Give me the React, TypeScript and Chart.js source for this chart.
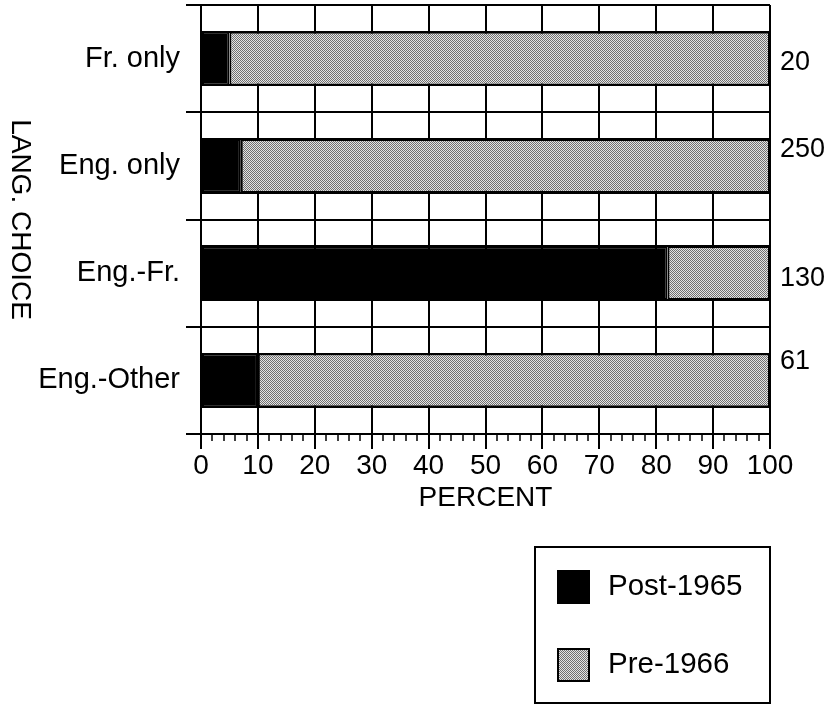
import React, { useEffect, useRef } from "react";
import { Chart, registerables } from "chart.js";

Chart.register(...registerables);

const categories = ["Fr. only", "Eng. only", "Eng.-Fr.", "Eng.-Other"];
const post1965 = [5, 7, 82, 10];
const pre1966 = [95, 93, 18, 90];
const counts = ["20", "250", "130", "61"];
const seriesLabels = ["Post-1965", "Pre-1966"];
const xTickValues = [0, 10, 20, 30, 40, 50, 60, 70, 80, 90, 100];

const FONT = "'Liberation Sans', Arial, Helvetica, sans-serif";

function makePattern(): CanvasPattern | string {
  const c = document.createElement("canvas");
  c.width = 2;
  c.height = 2;
  const g = c.getContext("2d");
  if (!g) return "#b0b0b0";
  g.fillStyle = "#e4e4e4";
  g.fillRect(0, 0, 2, 2);
  g.fillStyle = "#707070";
  g.fillRect(0, 0, 1, 1);
  g.fillRect(1, 1, 1, 1);
  const p = g.createPattern(c, "repeat");
  return p || "#b0b0b0";
}

export default function App() {
  const ref = useRef<HTMLCanvasElement | null>(null);

  useEffect(() => {
    const canvas = ref.current;
    if (!canvas) return;
    const grey = makePattern();

    const quarterLines = {
      id: "quarterLines",
      beforeDatasetsDraw(chart: any) {
        const { ctx, chartArea, scales } = chart;
        const y = scales.y;
        const band = (chartArea.bottom - chartArea.top) / categories.length;
        ctx.save();
        ctx.strokeStyle = "#000";
        ctx.lineWidth = 2;
        categories.forEach((_, i) => {
          const c = y.getPixelForValue(i);
          [c - band / 4, c + band / 4].forEach((py) => {
            const yy = Math.round(py);
            ctx.beginPath();
            ctx.moveTo(chartArea.left, yy);
            ctx.lineTo(chartArea.right, yy);
            ctx.stroke();
          });
        });
        ctx.restore();
      },
    };

    const extras = {
      id: "extras",
      afterDraw(chart: any) {
        const { ctx, chartArea, scales } = chart;
        const x = scales.x;
        const y = scales.y;
        const band = (chartArea.bottom - chartArea.top) / categories.length;
        ctx.save();
        // minor ticks
        ctx.strokeStyle = "#000";
        ctx.lineWidth = 1.5;
        for (let v = 2; v < 100; v += 2) {
          if (v % 10 === 0) continue;
          const px = Math.round(x.getPixelForValue(v));
          ctx.beginPath();
          ctx.moveTo(px, chartArea.bottom);
          ctx.lineTo(px, chartArea.bottom + 7);
          ctx.stroke();
        }
        // y title rotated clockwise
        ctx.fillStyle = "#000";
        ctx.font = `28px ${FONT}`;
        ctx.textAlign = "center";
        ctx.textBaseline = "middle";
        ctx.save();
        ctx.translate(20, (chartArea.top + chartArea.bottom) / 2);
        ctx.rotate(Math.PI / 2);
        ctx.fillText("LANG. CHOICE", 0, 0);
        ctx.restore();
        // counts on right
        const offs = [0.04, -0.15, 0.05, -0.18];
        ctx.textAlign = "left";
        ctx.font = `27px ${FONT}`;
        counts.forEach((t, i) => {
          ctx.fillText(t, chartArea.right + 10, y.getPixelForValue(i) + offs[i] * band);
        });
        // legend
        const lx = 535, ly = 547, lw = 235, lh = 156;
        ctx.lineWidth = 2;
        ctx.strokeRect(lx, ly, lw, lh);
        const fills = [chart.data.datasets[0].backgroundColor, chart.data.datasets[1].backgroundColor];
        const rows = [587, 665];
        ctx.font = `29.5px ${FONT}`;
        seriesLabels.forEach((lab, i) => {
          const cy = rows[i];
          ctx.fillStyle = fills[i];
          ctx.fillRect(558, cy - 16, 31, 32);
          ctx.strokeStyle = "#000";
          ctx.lineWidth = 2;
          ctx.strokeRect(558, cy - 16, 31, 32);
          ctx.fillStyle = "#000";
          ctx.fillText(lab, 608, cy);
        });
        ctx.restore();
      },
    };

    const chart = new Chart(canvas, {
      type: "bar",
      data: {
        labels: categories,
        datasets: [
          {
            label: seriesLabels[0],
            data: post1965,
            backgroundColor: "#000000",
            borderColor: "#000000",
            borderWidth: 2,
            borderSkipped: false,
            barPercentage: 0.5,
            categoryPercentage: 1,
          },
          {
            label: seriesLabels[1],
            data: pre1966,
            backgroundColor: grey as any,
            borderColor: "#000000",
            borderWidth: 2,
            borderSkipped: false,
            barPercentage: 0.5,
            categoryPercentage: 1,
          },
        ],
      },
      options: {
        indexAxis: "y",
        responsive: false,
        animation: false,
        events: [],
        layout: { padding: { top: 5, right: 62, bottom: 190, left: 0 } },
        plugins: {
          legend: { display: false },
          tooltip: { enabled: false },
        },
        scales: {
          x: {
            stacked: true,
            min: 0,
            max: 100,
            afterBuildTicks(scale: any) {
              scale.ticks = xTickValues.map((v) => ({ value: v }));
            },
            afterFit(scale: any) {
              scale.height = 81;
              scale.paddingLeft = 0;
              scale.paddingRight = 0;
            },
            grid: {
              color: "#000",
              lineWidth: 2,
              tickLength: 15,
              drawOnChartArea: true,
            },
            border: { display: true, color: "#000", width: 2 },
            ticks: {
              color: "#000",
              font: { family: FONT, size: 28 },
              padding: 0,
              maxRotation: 0,
              autoSkip: false,
            },
            title: {
              display: true,
              text: "PERCENT",
              color: "#000",
              font: { family: FONT, size: 28 },
              padding: { top: 0, bottom: 0 },
            },
          },
          y: {
            stacked: true,
            afterFit(scale: any) {
              scale.width = 201;
              scale.paddingTop = 0;
              scale.paddingBottom = 0;
            },
            grid: {
              color: "#000",
              lineWidth: 2,
              tickLength: 15,
              offset: true,
            },
            border: { display: true, color: "#000", width: 2 },
            ticks: {
              color: "#000",
              font: { family: FONT, size: 29 },
              padding: 6,
            },
          },
        },
      },
      plugins: [quarterLines, extras],
    });

    return () => chart.destroy();
  }, []);

  return (
    <div style={{ position: "fixed", left: 0, top: 0, width: 832, height: 705, background: "#fff" }}>
      <canvas ref={ref} width={832} height={705} style={{ display: "block" }} />
    </div>
  );
}
